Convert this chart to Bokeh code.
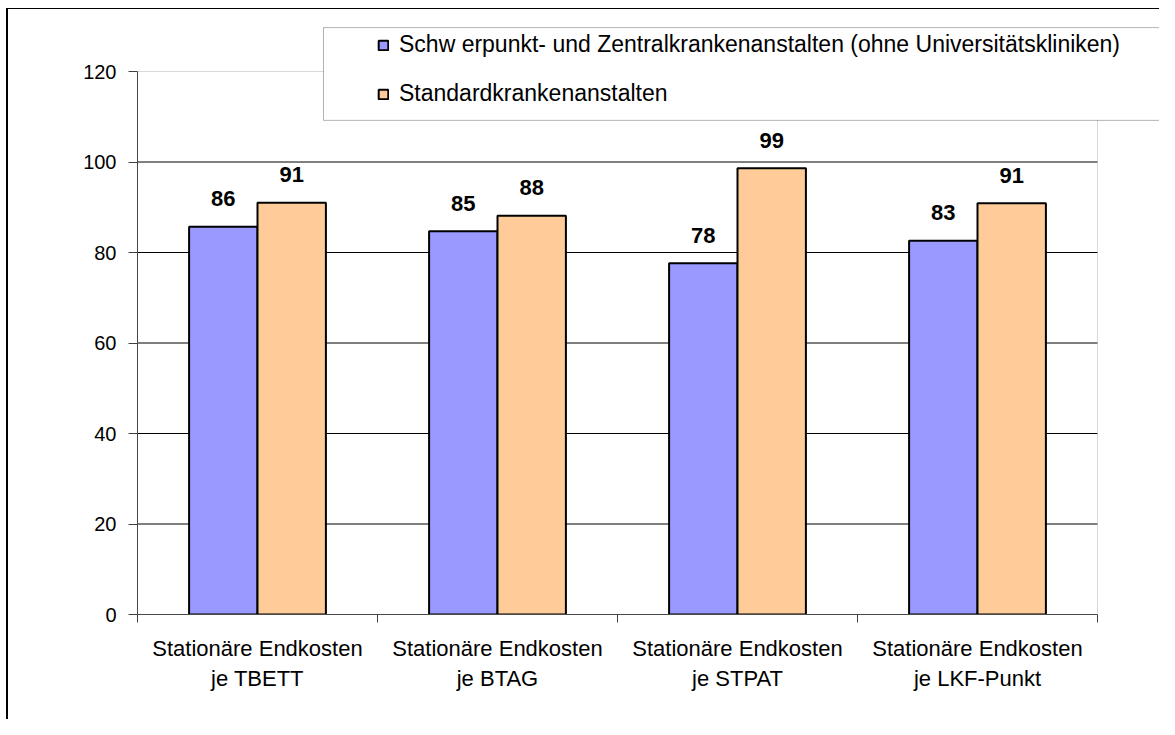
from bokeh.plotting import figure
from bokeh.models import Range1d, FixedTicker, Legend, LegendItem, BoxAnnotation, ColumnDataSource
from bokeh.core.properties import value
from bokeh.embed import file_html
from bokeh.resources import INLINE

# ---- data ----
categories = ["Stationäre Endkosten\nje TBETT", "Stationäre Endkosten\nje BTAG",
              "Stationäre Endkosten\nje STPAT", "Stationäre Endkosten\nje LKF-Punkt"]
series_names = ["Schw erpunkt- und Zentralkrankenanstalten (ohne Universitätskliniken)",
                "Standardkrankenanstalten"]
schwerpunkt_vals = [85.7, 84.7, 77.6, 82.6]
standard_vals = [91.0, 88.1, 98.6, 90.9]
y_ticks = [0, 20, 40, 60, 80, 100, 120]
y_max = 120

FONT = "Liberation Sans"
colors = ["#9999FF", "#FFCC99"]
bar_w = 0.285
n = len(categories)
centers = [i + 0.5 for i in range(n)]

# layout (pixels)
W, H = 1159, 719
left_px, bottom_px = 137, 105
frame_w, frame_h = W - left_px, H - bottom_px
plot_w_px, plot_h_px = 960, 543           # the visible plot area (0..n, 0..120)
x_end = n * frame_w / plot_w_px
y_end = y_max * frame_h / plot_h_px

p = figure(frame_width=frame_w, frame_height=frame_h, output_backend="svg", toolbar_location=None,
           x_range=Range1d(0, x_end), y_range=Range1d(0, y_end),
           min_border_left=left_px, min_border_right=0, min_border_top=0, min_border_bottom=bottom_px)
p.styles = {"background": "linear-gradient(#000,#000) 6px 8px / 2px calc(100% - 8px) no-repeat, "
                          "linear-gradient(#000,#000) 6px 8px / calc(100% - 6px) 1px no-repeat, #ffffff"}
p.background_fill_alpha = 0
p.border_fill_alpha = 0
p.outline_line_color = None

# gridlines limited to the plot area
grid_vals = [t for t in y_ticks if 0 < t < y_max]
p.segment(x0=[0] * len(grid_vals), x1=[n] * len(grid_vals), y0=grid_vals, y1=grid_vals,
          line_color="black", line_width=1)

renderers = []
for k, vals in enumerate([schwerpunkt_vals, standard_vals]):
    xs = [c + (k - 0.5) * bar_w for c in centers]
    src = ColumnDataSource(dict(x=xs, top=vals, lab=[str(int(round(v))) for v in vals]))
    r = p.vbar(x="x", top="top", bottom=0, width=bar_w, source=src,
               fill_color=colors[k], line_color="black", line_width=2)
    renderers.append(r)
    p.text(x="x", y="top", text="lab", source=src, text_align="center",
           text_baseline="alphabetic", y_offset=-28,
           text_font=value(FONT), text_font_size="22px", text_font_style="bold",
           text_color="black")

# axes
p.yaxis.bounds = (0, y_max)
p.yaxis.ticker = FixedTicker(ticks=y_ticks)
p.yaxis.axis_line_color = "#404040"
p.yaxis.major_tick_line_color = "#404040"
p.yaxis.major_tick_out = 9
p.yaxis.major_tick_in = 0
p.yaxis.minor_tick_line_color = None
p.yaxis.major_label_standoff = 12
p.yaxis.major_label_text_font = FONT
p.yaxis.major_label_text_font_size = "20px"
p.yaxis.major_label_text_color = "black"

p.xaxis.bounds = (0, n)
p.xaxis.ticker = FixedTicker(ticks=centers, minor_ticks=list(range(n + 1)))
p.xaxis.major_label_overrides = {c: lab for c, lab in zip(centers, categories)}
p.xaxis.axis_line_color = "#404040"
p.xaxis.major_tick_line_color = None
p.xaxis.major_tick_out = 0
p.xaxis.major_tick_in = 0
p.xaxis.minor_tick_line_color = "#404040"
p.xaxis.minor_tick_out = 8
p.xaxis.minor_tick_in = 0
p.xaxis.major_label_standoff = 13
p.xaxis.major_label_text_font = FONT
p.xaxis.major_label_text_font_size = "22px"
p.xaxis.major_label_text_color = "black"

p.xgrid.grid_line_color = None
p.ygrid.grid_line_color = None

# plot-area border (gray), then legend box on top of it
area = BoxAnnotation(left=0, right=n, bottom=0, top=y_max, fill_alpha=0,
                     line_color="#808080", line_width=1)
p.add_layout(area)
box = BoxAnnotation(left=0.775, right=x_end + 1, top=129.7, bottom=109.2,
                    fill_color="white", fill_alpha=1, line_color="black", line_width=1)
p.add_layout(box)

legend = Legend(items=[LegendItem(label=series_names[0], renderers=[renderers[0]]),
                       LegendItem(label=series_names[1], renderers=[renderers[1]])],
                location=(240, 507), padding=0, margin=0, spacing=22,
                glyph_width=12, glyph_height=12, label_height=24, label_standoff=10,
                label_text_font=FONT, label_text_font_size="23px", label_text_color="black",
                border_line_color=None, background_fill_alpha=0)
p.add_layout(legend)

open("out.html", "w").write(file_html(p, INLINE))
